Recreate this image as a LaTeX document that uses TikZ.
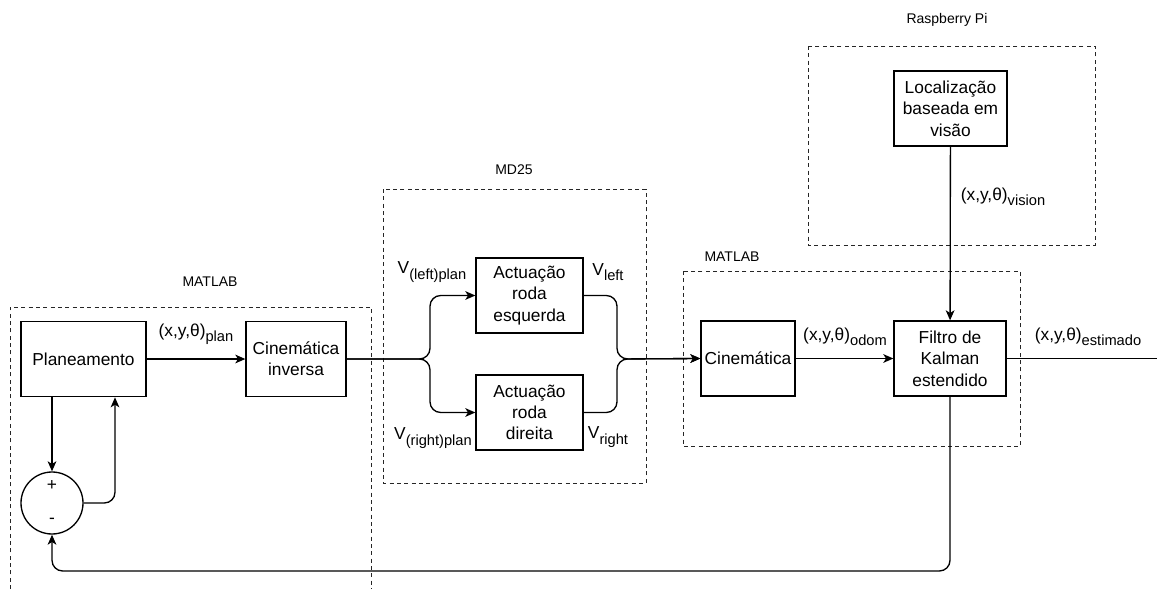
\documentclass[tikz,border=0pt]{standalone}
\usepackage{fontspec}
\setmainfont{Liberation Sans}
\usetikzlibrary{arrows.meta,calc}
\newcommand\lsub[1]{\raisebox{-0.3em}{\fontsize{11pt}{13pt}\selectfont #1}}
\begin{document}
\begin{tikzpicture}[x=0.75pt,y=-0.75pt,
  blk/.style={draw, line width=1pt, inner sep=0pt, align=center,
    font=\fontsize{13pt}{16pt}\selectfont, minimum height=56.5pt},
  grp/.style={draw=black!85, line width=0.65pt, dash pattern=on 3pt off 2.5pt},
  grplabel/.style={font=\fontsize{10.5pt}{12pt}\selectfont, inner sep=0pt},
  sig/.style={font=\fontsize{13pt}{16pt}\selectfont, inner sep=0pt},
  conn/.style={line width=1pt, rounded corners=8pt},
  arr/.style={conn, -{Stealth[length=7.5pt,width=6.5pt,inset=2pt]}}]
\useasboundingbox (0,0) rectangle (1157,589);

% group boxes
\draw[grp] (10,589) -- (10,307) -- (371,307) -- (371,589);
\draw[grp] (383,189) rectangle (646,483);
\draw[grp] (683,271) rectangle (1020,446);
\draw[grp] (808,46) rectangle (1095,245);
\node[grplabel] (g1) at (210,282) {MATLAB};
\node[grplabel] (g2) at (514,170) {MD25};
\node[grplabel] (g3) at (732,257) {MATLAB};
\node[grplabel] (g4) at (947,20) {Raspberry Pi};

% blocks
\node[blk, minimum width=93.75pt] (plan) at (83.5,359) {Planeamento};
\node[blk, minimum width=75pt] (cinv) at (296,359) {Cinemática\\inversa};
\node[blk, minimum width=80.25pt, minimum height=56.25pt] (left) at (529.5,295.5) {Actuação\\roda\\esquerda};
\node[blk, minimum width=80.25pt, minimum height=56.25pt] (right) at (529.5,412.5) {Actuação\\roda\\direita};
\node[blk, minimum width=70.5pt, minimum height=56.25pt] (cin) at (748,358.5) {Cinemática};
\node[blk, minimum width=84pt, minimum height=56.25pt] (kal) at (950,358.5) {Filtro de\\Kalman\\estendido};
\node[blk, minimum width=84.75pt, minimum height=56.25pt] (loc) at (950.5,108.5) {Localização\\baseada em\\visão};
\node[draw, circle, line width=1pt, minimum size=46.5pt, inner sep=0pt] (circ) at (52,503) {};
\node[sig] (plus) at (52,485) {+};
\node[sig] (minus) at (52,521) {-};

% connectors
\coordinate (split) at (430,359);
\coordinate (merge) at (617,359);
\coordinate (out) at (1157,358.5);
\coordinate (fb) at (950,571);
\draw[arr] (plan) -- (cinv);
\draw[arr] (cinv.east) -- (split) |- (left.west);
\draw[arr] (cinv.east) -- (split) |- (right.west);
\draw[arr] (left.east) -| (merge) -- (cin.west);
\draw[arr] (right.east) -| (merge) -- (cin.west);
\draw[arr] (cin) -- (kal);
\draw[arr] (loc) -- (kal);
\draw[conn] (kal) -- (out);
\draw[arr] (kal.south) -- (fb) -| (circ.south);
\draw[arr] (circ.north |- plan.south) -- (circ.north);
\draw[arr] (circ.east) -| ($(plan.south)+(31.5,0)$);

% signal labels
\node[sig] (lplan) at (196,334) {(x,y,θ)\lsub{plan}};
\node[sig] (lodom) at (845,337) {(x,y,θ)\lsub{odom}};
\node[sig] (lest) at (1088,337) {(x,y,θ)\lsub{estimado}};
\node[sig] (lvis) at (1003,197) {(x,y,θ)\lsub{vision}};
\node[sig] (vlp) at (432,272) {V\lsub{(left)plan}};
\node[sig] (vl) at (608,272) {V\lsub{left}};
\node[sig] (vrp) at (433,438) {V\lsub{(right)plan}};
\node[sig] (vr) at (608,437) {V\lsub{right}};
\end{tikzpicture}
\end{document}
